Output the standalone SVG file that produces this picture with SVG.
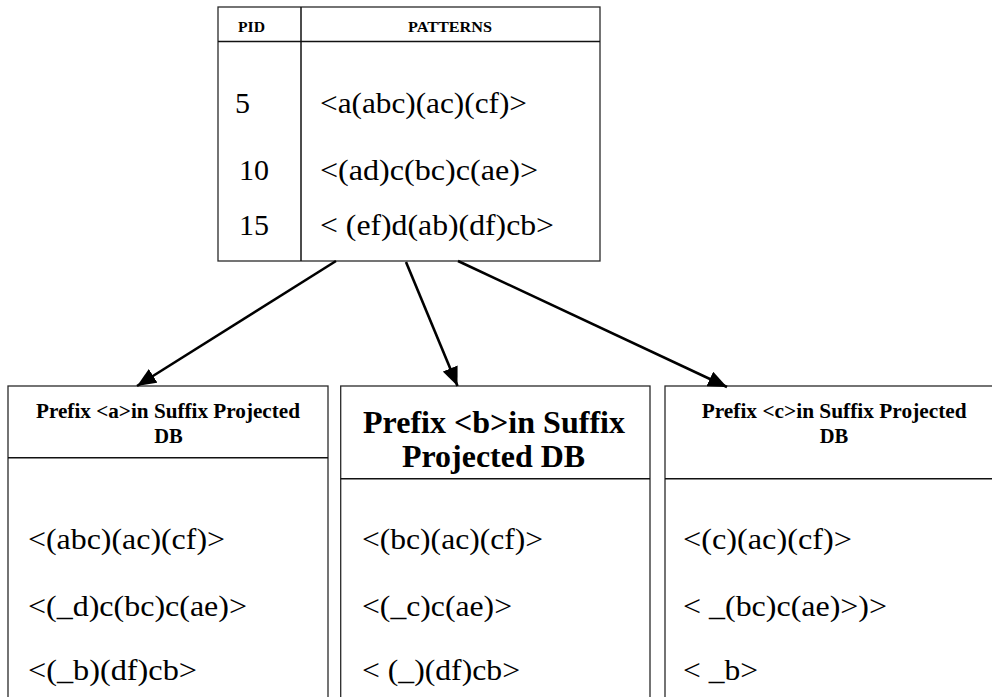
<svg xmlns="http://www.w3.org/2000/svg" width="992" height="697" viewBox="0 0 992 697">
  <style>
    .frame { fill: #ffffff; stroke: #2a2a2a; stroke-width: 1.3; }
    .rule { stroke: #111111; stroke-width: 1.5; fill: none; }
    .hdr { font-family: "Liberation Serif", "Times New Roman", serif; font-weight: bold; font-size: 15px; fill: #000; }
    .ttl { font-family: "Liberation Serif", "Times New Roman", serif; font-weight: bold; font-size: 20.5px; fill: #000; }
    .ttl-big { font-family: "Liberation Serif", "Times New Roman", serif; font-weight: bold; font-size: 32px; fill: #000; }
    .seq { font-family: "Liberation Serif", "Times New Roman", serif; font-size: 30px; fill: #000; }
    .link { stroke: #000; stroke-width: 2.6; fill: none; marker-end: url(#head); }
  </style>
  <defs>
    <marker id="head" markerUnits="userSpaceOnUse" markerWidth="20" markerHeight="16" refX="19" refY="8" orient="auto">
      <path d="M0,0 L19,8 L0,16 z" fill="#000"/>
    </marker>
  </defs>

  <rect width="992" height="697" fill="#ffffff"/>

  <!-- source sequence database -->
  <g id="sequence-db">
    <rect class="frame" x="218" y="7" width="382" height="254"/>
    <line class="rule" x1="218" y1="41.5" x2="600" y2="41.5"/>
    <line class="rule" x1="301" y1="7" x2="301" y2="261"/>
    <text class="hdr" x="238" y="32" textLength="27" lengthAdjust="spacingAndGlyphs">PID</text>
    <text class="hdr" x="408" y="32" textLength="84" lengthAdjust="spacingAndGlyphs">PATTERNS</text>
    <text class="seq" x="235" y="113">5</text>
    <text class="seq" x="320" y="113" textLength="207" lengthAdjust="spacingAndGlyphs">&lt;a(abc)(ac)(cf)&gt;</text>
    <text class="seq" x="239" y="180">10</text>
    <text class="seq" x="320" y="180" textLength="218" lengthAdjust="spacingAndGlyphs">&lt;(ad)c(bc)c(ae)&gt;</text>
    <text class="seq" x="239" y="235">15</text>
    <text class="seq" x="320" y="235" textLength="234" lengthAdjust="spacingAndGlyphs">&lt; (ef)d(ab)(df)cb&gt;</text>
  </g>

  <!-- projected database for prefix a -->
  <g id="projected-a">
    <rect class="frame" x="8" y="386" width="320" height="330"/>
    <line class="rule" x1="8" y1="457.7" x2="328" y2="457.7"/>
    <text class="ttl" x="36" y="417.7" textLength="264" lengthAdjust="spacingAndGlyphs">Prefix &lt;a&gt;in Suffix Projected</text>
    <text class="ttl" x="168.5" y="442.7" text-anchor="middle">DB</text>
    <text class="seq" x="28" y="549" textLength="197" lengthAdjust="spacingAndGlyphs">&lt;(abc)(ac)(cf)&gt;</text>
    <text class="seq" x="28" y="615.7" textLength="219" lengthAdjust="spacingAndGlyphs">&lt;(_d)c(bc)c(ae)&gt;</text>
    <text class="seq" x="28" y="680" textLength="169" lengthAdjust="spacingAndGlyphs">&lt;(_b)(df)cb&gt;</text>
  </g>

  <!-- projected database for prefix b -->
  <g id="projected-b">
    <rect class="frame" x="340.7" y="386" width="309.3" height="330"/>
    <line class="rule" x1="340.7" y1="478.7" x2="650" y2="478.7"/>
    <text class="ttl-big" x="363" y="433" textLength="262" lengthAdjust="spacingAndGlyphs">Prefix &lt;b&gt;in Suffix</text>
    <text class="ttl-big" x="402" y="466.7" textLength="183" lengthAdjust="spacingAndGlyphs">Projected DB</text>
    <text class="seq" x="362" y="549" textLength="181" lengthAdjust="spacingAndGlyphs">&lt;(bc)(ac)(cf)&gt;</text>
    <text class="seq" x="362" y="615.7" textLength="150" lengthAdjust="spacingAndGlyphs">&lt;(_c)c(ae)&gt;</text>
    <text class="seq" x="362" y="680" textLength="158" lengthAdjust="spacingAndGlyphs">&lt; (_)(df)cb&gt;</text>
  </g>

  <!-- projected database for prefix c -->
  <g id="projected-c">
    <rect class="frame" x="665" y="386" width="338" height="330"/>
    <line class="rule" x1="665" y1="478.7" x2="1003" y2="478.7"/>
    <text class="ttl" x="701.7" y="417.7" textLength="265" lengthAdjust="spacingAndGlyphs">Prefix &lt;c&gt;in Suffix Projected</text>
    <text class="ttl" x="834" y="442.7" text-anchor="middle">DB</text>
    <text class="seq" x="683" y="549" textLength="169" lengthAdjust="spacingAndGlyphs">&lt;(c)(ac)(cf)&gt;</text>
    <text class="seq" x="683" y="615.7" textLength="204" lengthAdjust="spacingAndGlyphs">&lt; _(bc)c(ae)&gt;)&gt;</text>
    <text class="seq" x="683" y="680" textLength="75" lengthAdjust="spacingAndGlyphs">&lt; _b&gt;</text>
  </g>

  <!-- projection arrows -->
  <g id="connectors">
    <line class="link" x1="336" y1="261" x2="137" y2="386"/>
    <line class="link" x1="406" y1="262" x2="457.5" y2="386"/>
    <line class="link" x1="458" y1="261" x2="727" y2="387"/>
  </g>
</svg>
